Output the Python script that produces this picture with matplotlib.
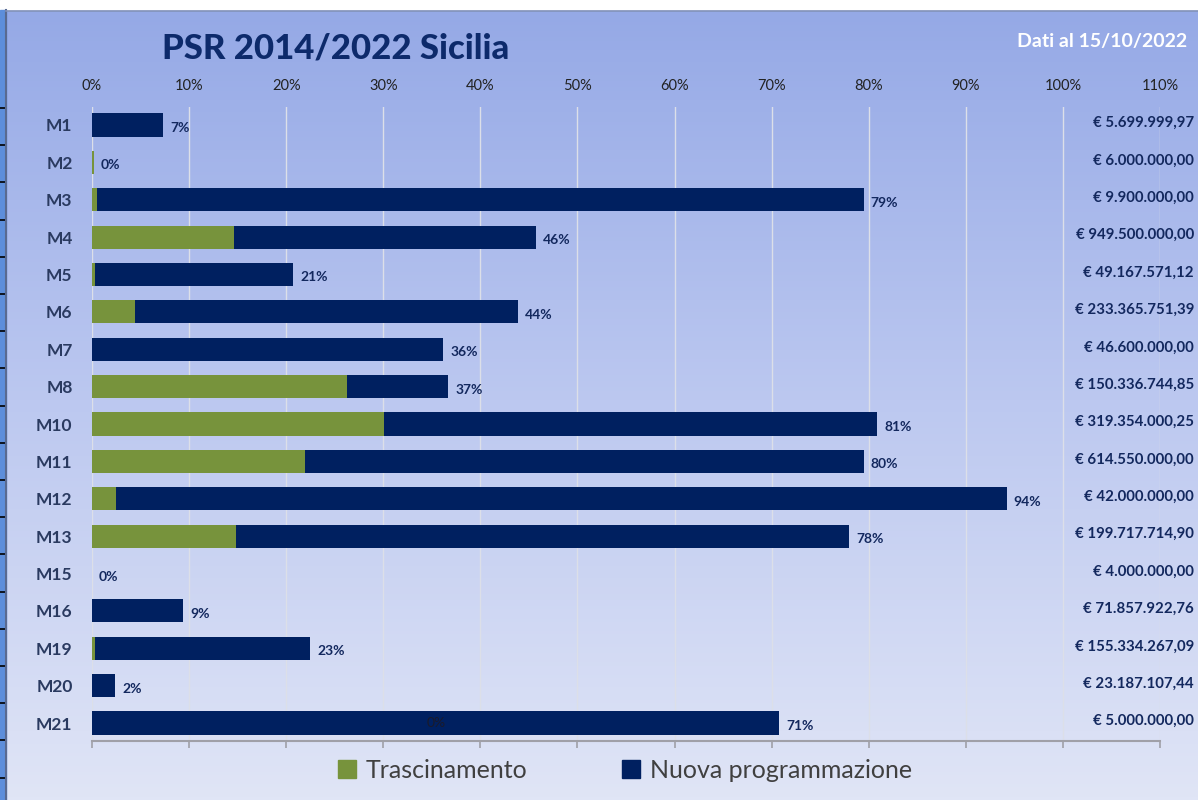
import numpy as np
import matplotlib
matplotlib.use('Agg')
import matplotlib.pyplot as plt
import matplotlib.transforms as mtransforms
from matplotlib.patches import Patch, Rectangle
from matplotlib.colors import LinearSegmentedColormap

# Dati (percentuali di avanzamento)
categories = ['M1', 'M2', 'M3', 'M4', 'M5', 'M6', 'M7', 'M8', 'M10', 'M11',
              'M12', 'M13', 'M15', 'M16', 'M19', 'M20', 'M21']
trascinamento = [0, 0.2, 0.5, 14.6, 0.3, 4.4, 0, 26.3, 30.1, 21.9,
                 2.5, 14.8, 0, 0, 0.3, 0, 0]
nuova = [7.3, 0, 79.0, 31.1, 20.4, 39.5, 36.2, 10.4, 50.8, 57.6,
         91.7, 63.2, 0, 9.4, 22.2, 2.4, 70.8]
pct_labels = ['7%', '0%', '79%', '46%', '21%', '44%', '36%', '37%', '81%', '80%',
              '94%', '78%', '0%', '9%', '23%', '2%', '71%']
dotazione = ['€ 5.699.999,97', '€ 6.000.000,00', '€ 9.900.000,00', '€ 949.500.000,00',
             '€ 49.167.571,12', '€ 233.365.751,39', '€ 46.600.000,00', '€ 150.336.744,85',
             '€ 319.354.000,25', '€ 614.550.000,00', '€ 42.000.000,00', '€ 199.717.714,90',
             '€ 4.000.000,00', '€ 71.857.922,76', '€ 155.334.267,09', '€ 23.187.107,44',
             '€ 5.000.000,00']
xticks = list(range(0, 111, 10))

GREEN = '#77933c'
NAVY = '#002060'
TEXT_NAVY = '#13285e'

plt.rcParams['font.family'] = ['Lato', 'DejaVu Sans']

W, H = 1198, 800
fig = plt.figure(figsize=(W / 100, H / 100), dpi=100)

# sfondo sfumato
bg = fig.add_axes([0, 0, 1, 1], zorder=-10)
cmap = LinearSegmentedColormap.from_list('bg', ['#94a8e6', '#bcc8f0', '#e0e5f6'])
grad = np.linspace(0, 1, 256).reshape(-1, 1)
bg.imshow(grad, cmap=cmap, aspect='auto', extent=[0, W, 0, H], origin='upper')
bg.set_xlim(0, W)
bg.set_ylim(0, H)
bg.add_patch(Rectangle((0, H - 10), W, 10, color='white', zorder=2))
bg.add_patch(Rectangle((0, 0), 6, H - 10, color='#5d8edb', zorder=2))
for yy in np.arange(H - 108, 0, -37.2):
    bg.plot([0, 6], [yy, yy], color='black', lw=1.2, zorder=3)
bg.plot([6, 6], [0, H - 10], color='#5a6a90', lw=1.5, zorder=3)
bg.plot([6, W], [H - 10.5, H - 10.5], color='#7f8fb8', lw=1.2, zorder=3)
bg.axis('off')

ax = fig.add_axes([92 / W, (H - 741) / H, (1160 - 92) / W, (741 - 107) / H])
ax.set_facecolor('none')

y = np.arange(len(categories))
left2 = np.array(trascinamento)
ax.barh(y, trascinamento, height=0.62, color=GREEN, linewidth=0,
        label='Trascinamento', zorder=3)
ax.barh(y, nuova, left=left2, height=0.62, color=NAVY, linewidth=0,
        label='Nuova programmazione', zorder=3)

totals = left2 + np.array(nuova)
for i, (tot, lab) in enumerate(zip(totals, pct_labels)):
    ax.annotate(lab, (tot, i), xytext=(7, -3), textcoords='offset pixels',
                ha='left', va='center', fontsize=10, fontweight='bold', color=TEXT_NAVY, zorder=4)

# etichetta 0% del trascinamento dentro la barra M21
ax.text(totals[-1] / 2, len(categories) - 1, '0%', ha='center', va='center',
        fontsize=10, color='#1a1a2a', zorder=4)

ax.set_xlim(0, 110)
ax.set_ylim(len(categories) - 0.52, -0.48)
ax.set_xticks(xticks)
ax.set_xticklabels([f'{t}%' for t in xticks])
ax.tick_params(axis='x', top=False, labeltop=True, bottom=True, labelbottom=False,
               length=5, width=1.2, color='#a0a0a8', labelsize=10.5, labelcolor='#222222', pad=5)
ax.set_yticks(y)
ax.set_yticklabels(categories)
ax.tick_params(axis='y', length=0, pad=14, labelsize=12.5, labelcolor='#2a3a60')
for t in ax.get_yticklabels():
    t.set_fontweight('bold')

ax.grid(axis='x', color='#dcdfe8', linewidth=1, zorder=0)
ax.set_axisbelow(True)
for s in ['top', 'right', 'left']:
    ax.spines[s].set_visible(False)
ax.spines['bottom'].set_color('#a0a0a8')
ax.spines['bottom'].set_linewidth(1.5)

# importi a destra
trans = mtransforms.blended_transform_factory(fig.transFigure, ax.transData)
for i, txt in enumerate(dotazione):
    ax.text(1194 / W, i - 0.05, txt, transform=trans, ha='right', va='center',
            fontsize=10.8, fontweight='bold', color=TEXT_NAVY, clip_on=False)

fig.text(336 / W, 1 - 49 / H, 'PSR 2014/2022 Sicilia', ha='center', va='center',
         fontsize=25, fontweight='black', color='#0d2a6b')
fig.text(1187 / W, 1 - 42 / H, 'Dati al 15/10/2022', ha='right', va='center',
         fontsize=14, fontweight='bold', color='white')

handles = [Patch(color=GREEN), Patch(color=NAVY)]
fig.legend(handles, ['Trascinamento', 'Nuova programmazione'], loc='center',
           bbox_to_anchor=(625 / W, 30 / H), ncol=2, frameon=False, fontsize=18,
           handlelength=0.7, handleheight=0.7, handletextpad=0.4, columnspacing=3.8,
           labelcolor='#404040')

fig.savefig('out.png', dpi=100)
